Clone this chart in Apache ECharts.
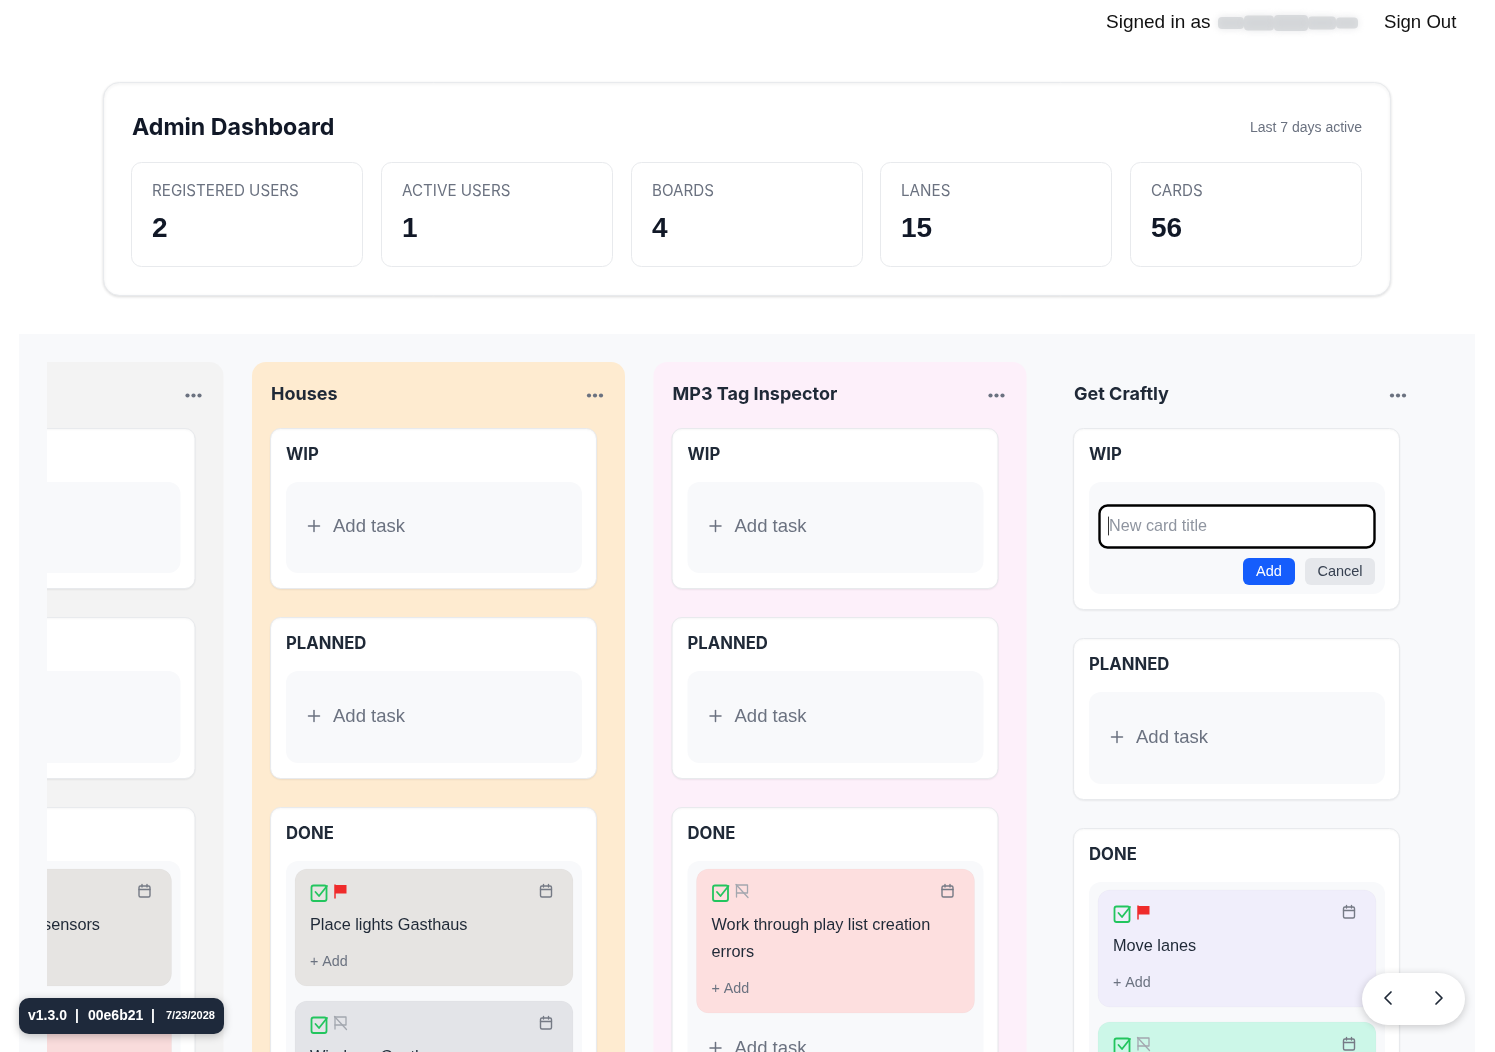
<!DOCTYPE html>
<html>
<head>
<meta charset="utf-8">
<title>Admin Dashboard</title>
<script src="https://cdn.jsdelivr.net/npm/echarts@6/dist/echarts.min.js"></script>
<style>
html, body { margin: 0; padding: 0; background: #fff; }
#main { width: 1495px; height: 1052px; }
</style>
</head>
<body>
<div id="main"></div>
<script>
var statLabels = ["REGISTERED USERS", "ACTIVE USERS", "BOARDS", "LANES", "CARDS"];
var statValues = [2, 1, 4, 15, 56];
var boardNames = ["", "Houses", "MP3 Tag Inspector", "Get Craftly"];
var laneNames = ["WIP", "PLANNED", "DONE"];
var doneTitles = [
    [["sensors"], [""]],
    [["Place lights Gasthaus"], ["Windows Gasth"]],
    [["Work through play list creation", "errors"]],
    [["Move lanes"], [""]]
];
var doneFlags = [[0, 0], [1, 0], [0], [1, 0]];

var boardBg = ["#f3f3f3", "#feebd0", "#fdf0fa", "#f8f9fb"];
var cardBg = [["#e6e4e2", "#f9dcdc"], ["#e6e4e2", "#e3e4e8"], ["#fddfdf"], ["#f0eefb", "#ccf7e8"]];
var FONT = "Inter, sans-serif";
var ARIAL = "'Liberation Sans', Arial, sans-serif";
var els = [];

function rect(x, y, w, h, r, fill, extra) {
    var style = Object.assign({ fill: fill }, extra || {});
    els.push({ type: "rect", shape: { x: x, y: y, width: w, height: h, r: r }, style: style, silent: true });
}

function text(x, y, str, size, color, weight, font, align) {
    els.push({
        type: "text", x: x, y: y, silent: true,
        style: {
            text: str, fill: color, fontSize: size, fontWeight: weight || 400,
            fontFamily: font || ARIAL, textAlign: align || "left", textVerticalAlign: "middle"
        }
    });
}

function line(points, color, width) {
    els.push({
        type: "polyline", silent: true, shape: { points: points },
        style: { stroke: color, lineWidth: width, fill: null, lineCap: "round", lineJoin: "round" }
    });
}

function checkIcon(x, y) {
    els.push({
        type: "rect", silent: true,
        shape: { x: x - 7.5, y: y - 7.5, width: 15, height: 15.5, r: 2 },
        style: { fill: null, stroke: "#22c55e", lineWidth: 1.8 }
    });
    line([[x - 3.5, y - 1], [x, y + 3], [x + 8, y - 7]], "#22c55e", 1.8);
}

function flagIcon(x, y) {
    line([[x - 5.5, y - 6], [x - 5.5, y + 7]], "#ef2b2b", 1.5);
    els.push({
        type: "polygon", silent: true,
        shape: { points: [[x - 5.5, y - 6], [x + 6, y - 6], [x + 6, y + 2.5], [x - 5.5, y + 2.5]] },
        style: { fill: "#ef2b2b" }
    });
}

function noFlagIcon(x, y) {
    line([[x - 5.5, y - 6], [x - 5.5, y + 6]], "#a3a7af", 1.3);
    line([[x - 5.5, y - 6], [x + 5.5, y - 6], [x + 5.5, y + 2], [x - 5.5, y + 2]], "#a3a7af", 1.3);
    line([[x - 6, y - 6.5], [x + 6, y + 6.5]], "#a3a7af", 1.3);
}

function calIcon(x, y) {
    els.push({
        type: "rect", silent: true,
        shape: { x: x - 5.5, y: y - 5, width: 11, height: 11, r: 1.5 },
        style: { fill: null, stroke: "#757a85", lineWidth: 1.4 }
    });
    line([[x - 5.5, y - 1.5], [x + 5.5, y - 1.5]], "#757a85", 1.3);
    line([[x - 2.5, y - 6.5], [x - 2.5, y - 4]], "#757a85", 1.3);
    line([[x + 2.5, y - 6.5], [x + 2.5, y - 4]], "#757a85", 1.3);
}

function plus(x, y) {
    line([[x - 5.5, y], [x + 5.5, y]], "#6b7280", 1.5);
    line([[x, y - 5.5], [x, y + 5.5]], "#6b7280", 1.5);
}

function addTask(lx, y) {
    plus(lx + 43, y);
    text(lx + 62, y + 1, "Add task", 18.5, "#6b7280", 400, ARIAL);
}

function laneBox(lx, top, bottom, name, innerBottom) {
    rect(lx - 0.5, top - 0.5, 326, bottom - top, 10, "#fff", {
        stroke: "#e8eaed", lineWidth: 1, shadowBlur: 2, shadowColor: "rgba(0,0,0,0.05)", shadowOffsetY: 1
    });
    text(lx + 15, top + 26, name, 16.7, "#1f2937", 700, FONT);
    rect(lx + 15, top + 53, 296, innerBottom - top - 53, 12, "#f8f9fb");
}

function taskCard(b, i, lx, top, bottom) {
    var cx = lx + 24;
    var lines = doneTitles[b][i];
    rect(cx, top, 278, bottom - top, 12, cardBg[b][i], { stroke: "rgba(0,0,0,0.02)", lineWidth: 1 });
    if (b == 0 && i == 1) {
        return;
    }
    checkIcon(cx + 24, top + 24);
    if (doneFlags[b][i]) {
        flagIcon(cx + 45.5, top + 22);
    } else {
        noFlagIcon(cx + 45.5, top + 22);
    }
    calIcon(cx + 251, top + 22);
    if (b == 0 && i == 0) {
        text(100, top + 57, lines[0], 16.3, "#1f2937", 400, ARIAL, "right");
    } else if (lines[0]) {
        lines.forEach(function (s, k) {
            text(cx + 15, top + 57 + k * 27, s, 16.3, "#1f2937", 400, ARIAL);
        });
    }
    if (bottom < 1052) {
        text(cx + 15, bottom - 24, "+ Add", 14.3, "#6b7280", 400, ARIAL);
    }
}

// page + dashboard
rect(0, 0, 1495, 1052, 0, "#fff");
text(1106, 23, "Signed in as", 19, "#111", 400, ARIAL);
// blurred out address
[[1218, 26, 12], [1244, 30, 15], [1274, 34, 16], [1308, 28, 13], [1336, 22, 11]].forEach(function (p) {
    rect(p[0], 23 - p[2] / 2, p[1], p[2], 4, "rgba(200,203,207,0.6)", { shadowBlur: 7, shadowColor: "rgba(200,203,207,0.8)" });
});
text(1384, 23, "Sign Out", 18.6, "#111", 400, ARIAL);

rect(103.5, 82.5, 1287, 213, 16, "#fff", {
    stroke: "#e8eaed", lineWidth: 1, shadowBlur: 3, shadowColor: "rgba(0,0,0,0.12)", shadowOffsetY: 1
});
text(132, 128, "Admin Dashboard", 23.2, "#111827", 700, FONT);
text(1362, 128, "Last 7 days active", 14, "#6b7280", 400, ARIAL, "right");
var statX = [132, 382, 632, 881, 1131];
statLabels.forEach(function (label, i) {
    rect(statX[i] - 0.5, 162.5, 231, 104, 10, "#fff", { stroke: "#e8eaed", lineWidth: 1 });
    text(statX[i] + 20, 191.5, label, 15.2, "#6b7280", 400, FONT);
    text(statX[i] + 20, 229.5, String(statValues[i]), 28, "#111827", 700, ARIAL);
});

// boards
rect(19, 334, 1456, 718, 0, "#f8f9fb");
boardNames.forEach(function (name, b) {
    var bx = 252 + (b - 1) * 401.5;
    var lx = bx + 19;
    var shift = b == 3 ? 21 : 0;
    rect(bx, 362, 373, 720, 14, boardBg[b]);
    if (name) {
        text(lx, 395, name, 18, "#1f2937", 700, FONT);
    }
    [337, 343, 349].forEach(function (dx) {
        els.push({
            type: "circle", silent: true,
            shape: { cx: bx + dx, cy: 395.5, r: 2.1 },
            style: { fill: "#6b7280" }
        });
    });

    if (b == 3) {
        laneBox(lx, 429, 610, laneNames[0], 594);
    } else {
        laneBox(lx, 429, 589, laneNames[0], 573);
        addTask(lx, 526);
    }
    laneBox(lx, 618 + shift, 779 + shift, laneNames[1], 763 + shift);
    addTask(lx, 716 + shift);
    laneBox(lx, 808 + shift, 1100, laneNames[2], 1100);

    if (b == 0) {
        taskCard(0, 0, lx, 869, 986);
        taskCard(0, 1, lx, 1010, 1100);
    } else if (b == 1) {
        taskCard(1, 0, lx, 869, 986);
        taskCard(1, 1, lx, 1001, 1100);
    } else if (b == 2) {
        taskCard(2, 0, lx, 869, 1013);
        addTask(lx, 1048);
    } else {
        taskCard(3, 0, lx, 890, 1007);
        taskCard(3, 1, lx, 1022, 1100);
    }
});

// left edge of the scrolled board
rect(0, 334, 19, 718, 0, "#fff");
rect(19, 334, 28, 718, 0, "#f8f9fb");

// new card form
rect(1099.5, 505.5, 275, 42, 8, "#fff", { stroke: "#000", lineWidth: 2.4 });
line([[1108.5, 517], [1108.5, 535]], "#333", 1);
text(1109, 527, "New card title", 16.2, "#8f95a0", 400, ARIAL);
rect(1243, 558, 52, 27, 6, "#155dfc");
text(1269, 572, "Add", 14.5, "#fff", 400, ARIAL, "center");
rect(1305, 558, 70, 27, 6, "#e5e7eb");
text(1340, 572, "Cancel", 14.5, "#374151", 400, ARIAL, "center");

// version pill
rect(19, 998, 205, 36, 10, "#1e293b", { shadowBlur: 8, shadowColor: "rgba(0,0,0,0.25)", shadowOffsetY: 2 });
text(28, 1016, "v1.3.0", 14, "#fff", 600, ARIAL);
text(77, 1016, "|", 14, "#fff", 600, ARIAL, "center");
text(88, 1016, "00e6b21", 14, "#fff", 600, ARIAL);
text(153, 1016, "|", 14, "#fff", 600, ARIAL, "center");
text(166, 1016, "7/23/2028", 11, "#fff", 600, ARIAL);

// scroll buttons
rect(1362, 973, 103, 52, 26, "#fff", { shadowBlur: 8, shadowColor: "rgba(0,0,0,0.2)", shadowOffsetY: 2 });
line([[1391, 992], [1385, 998], [1391, 1004]], "#1f2937", 1.7);
line([[1436, 992], [1442, 998], [1436, 1004]], "#1f2937", 1.7);

var chart = echarts.init(document.getElementById("main"));
chart.setOption({
    animation: false,
    backgroundColor: "#fff",
    graphic: { elements: els }
});
</script>
</body>
</html>
